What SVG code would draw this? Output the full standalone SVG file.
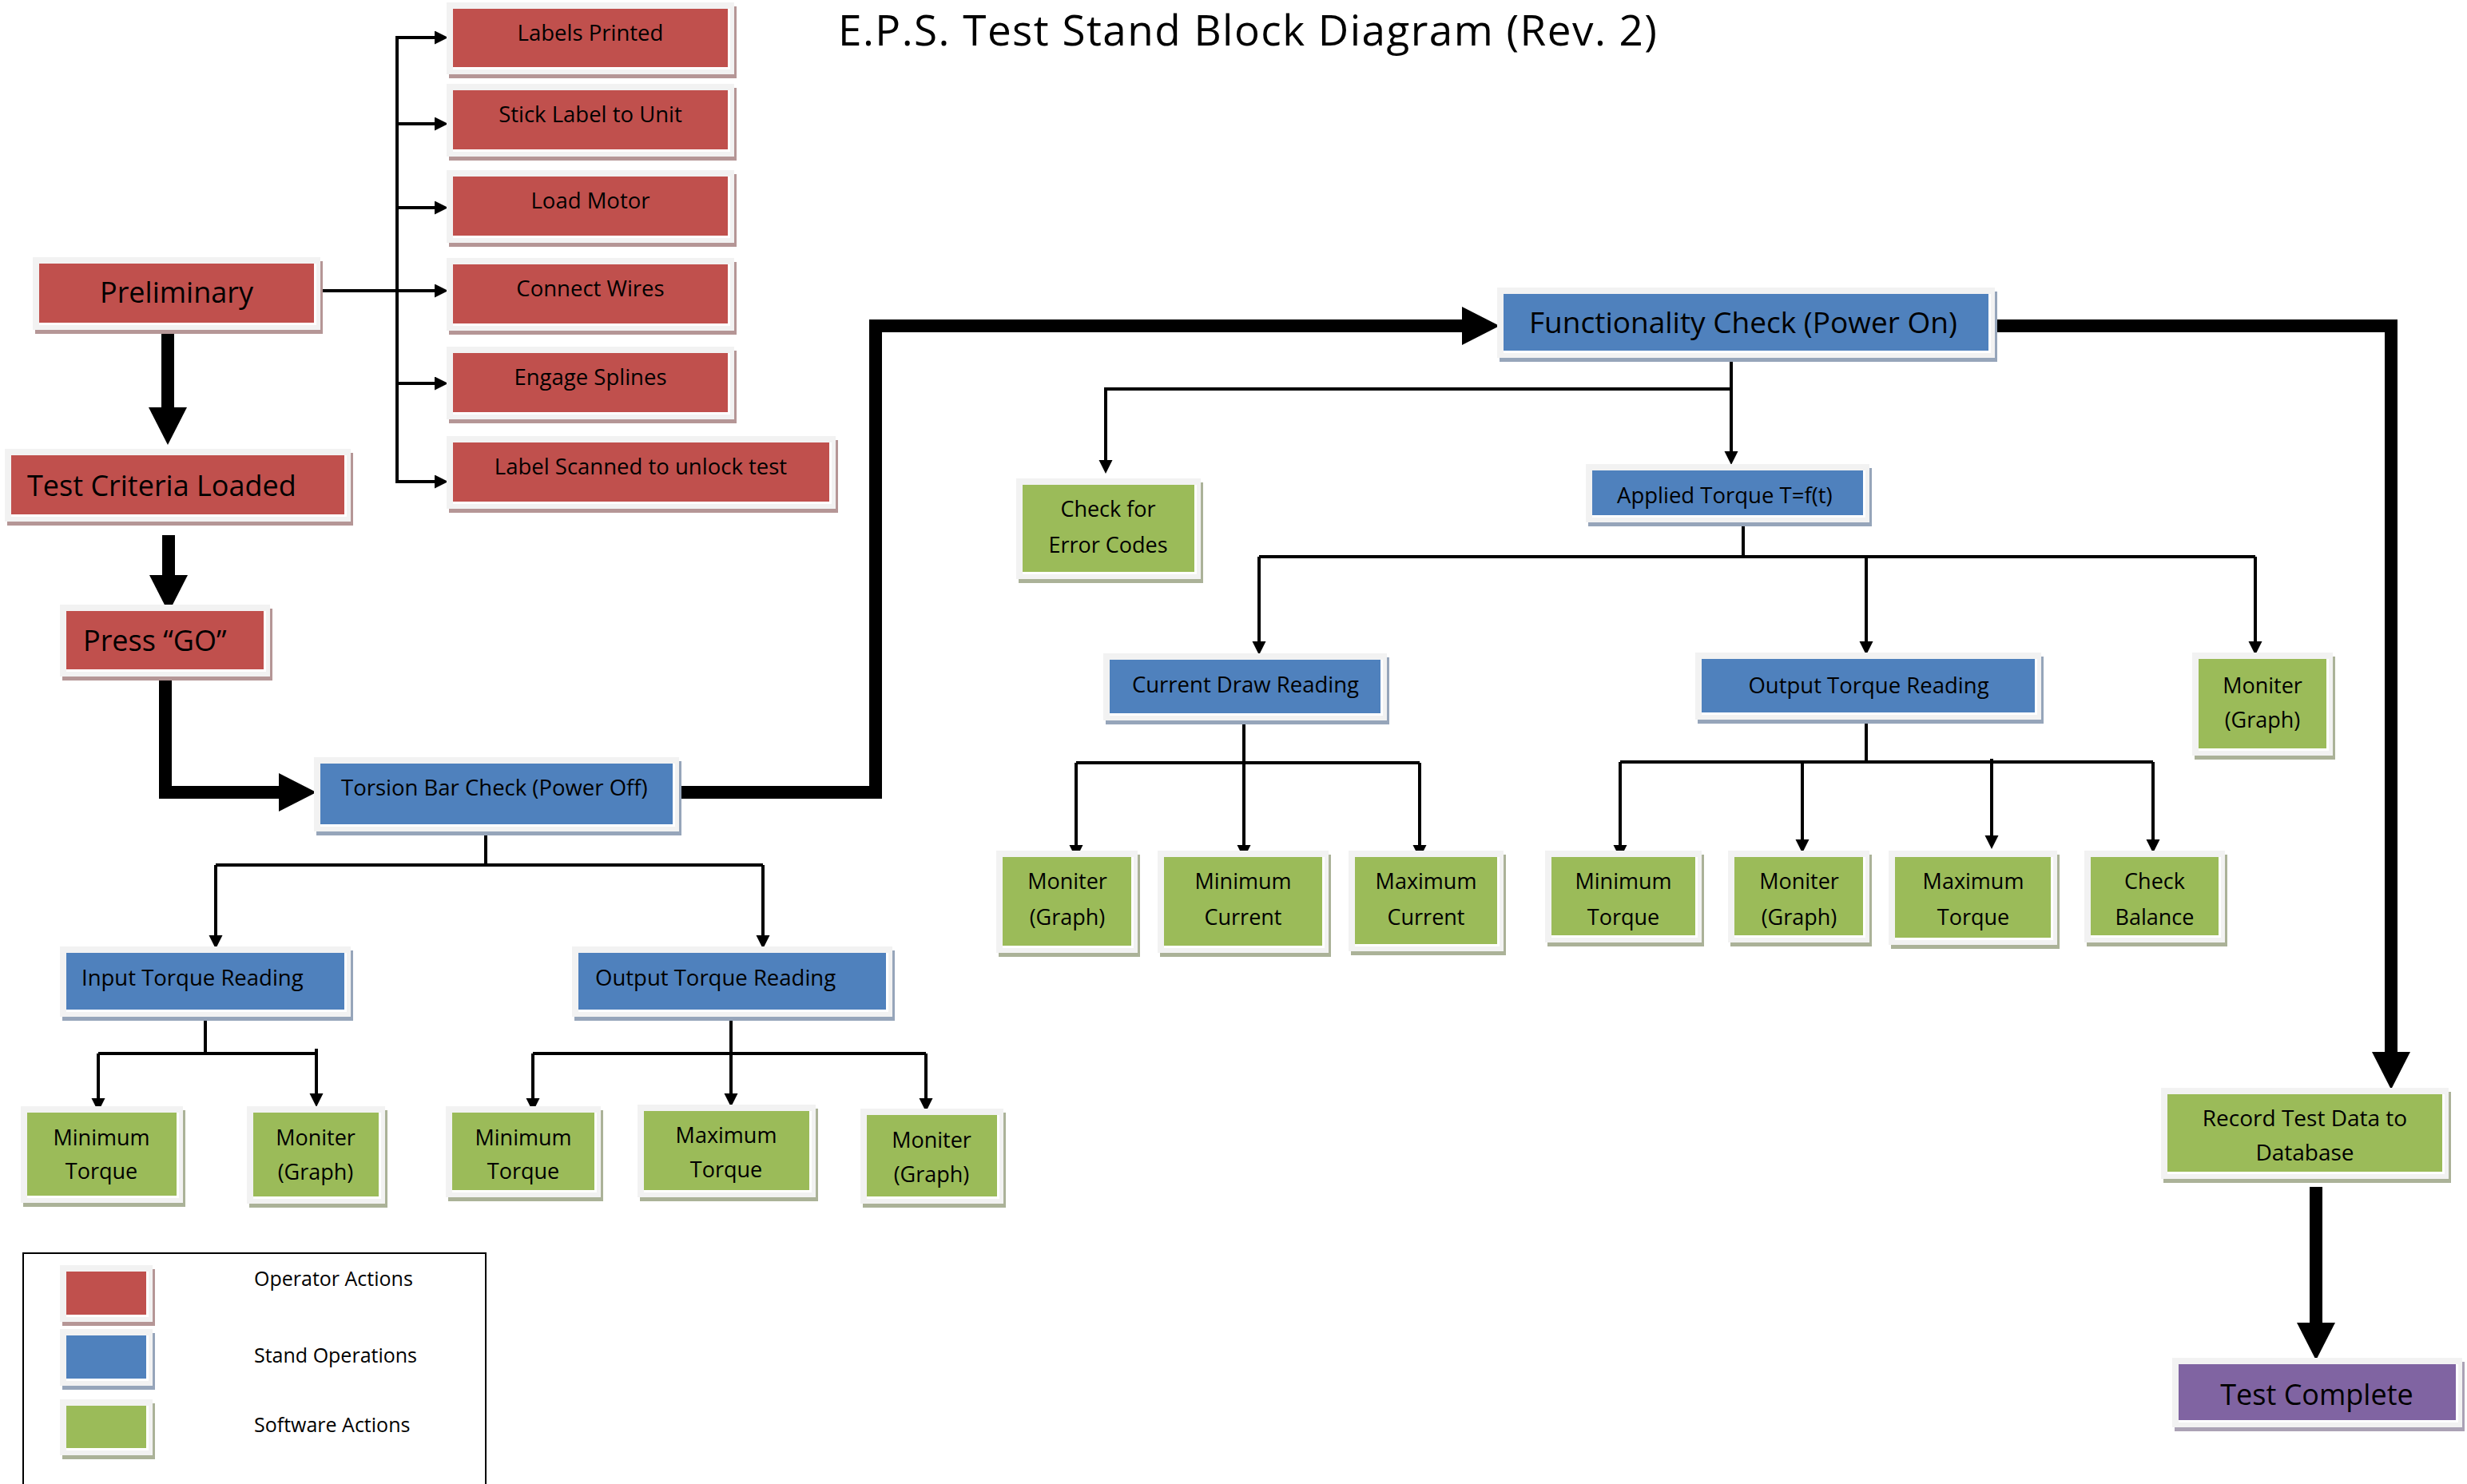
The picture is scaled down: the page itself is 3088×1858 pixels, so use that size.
<svg xmlns="http://www.w3.org/2000/svg" width="3088" height="1858" viewBox="0 0 3088 1858">
<style>
text{font-family:"Open Sans","Liberation Sans",sans-serif;fill:#000}
.t{font-size:27.5px}
.tg{font-size:27px;text-anchor:middle}
.tl{font-size:36px}
.m{text-anchor:middle}
.fr{fill:#f2f2f2}
.wh{fill:#ffffff}
.red .sh{fill:#b59696}.red .fl{fill:#c0504d}
.blue .sh{fill:#96a5ba}.blue .fl{fill:#4f81bd}
.green .sh{fill:#abb298}.green .fl{fill:#9bbb59}
.purple .sh{fill:#aba2b5}.purple .fl{fill:#8064a2}
.c{fill:none;stroke:#000;stroke-width:4}
.ca{fill:none;stroke:#000;stroke-width:4;marker-end:url(#ah)}
.tk{fill:none;stroke:#000;stroke-width:16;stroke-linejoin:miter;marker-end:url(#ahk)}
</style>
<defs>
<marker id="ah" markerUnits="userSpaceOnUse" markerWidth="18" markerHeight="18" refX="0" refY="8.5" orient="auto"><path d="M0,0 L17,8.5 L0,17 z" fill="#000"/></marker>
<marker id="ahk" markerUnits="userSpaceOnUse" markerWidth="48" markerHeight="48" refX="0" refY="24" orient="auto"><path d="M0,0 L47,24 L0,48 z" fill="#000"/></marker>
</defs>
<rect width="3088" height="1858" fill="#fff"/>
<text id="title" x="1049" y="57" font-size="53" textLength="1025">E.P.S. Test Stand Block Diagram (Rev. 2)</text>

<g id="connectors">
<path class="c" d="M497,45 V605"/>
<path class="ca" d="M401,364 H544"/>
<path class="ca" d="M497,47 H544"/>
<path class="ca" d="M497,155 H544"/>
<path class="ca" d="M497,260 H544"/>
<path class="ca" d="M497,480 H544"/>
<path class="ca" d="M497,603 H544"/>
<path class="ca" d="M2167,439 V565"/>
<path class="ca" d="M2167,487 H1384 V576"/>
<path class="c" d="M2182,645 V697"/>
<path class="c" d="M1576,697 H2823"/>
<path class="ca" d="M1576,697 V803"/>
<path class="ca" d="M2336,697 V803"/>
<path class="ca" d="M2823,697 V803"/>
<path class="ca" d="M1557,893 V1058"/>
<path class="c" d="M1347,955 H1777"/>
<path class="ca" d="M1347,955 V1058"/>
<path class="ca" d="M1777,955 V1058"/>
<path class="c" d="M2336,892 V954"/>
<path class="c" d="M2028,954 H2695"/>
<path class="ca" d="M2028,954 V1058"/>
<path class="ca" d="M2256,954 V1051"/>
<path class="ca" d="M2493,950 V1046"/>
<path class="ca" d="M2695,954 V1051"/>
<path class="c" d="M608,1032 V1083"/>
<path class="c" d="M270,1083 H955"/>
<path class="ca" d="M270,1083 V1171"/>
<path class="ca" d="M955,1083 V1171"/>
<path class="c" d="M257,1264 V1319"/>
<path class="c" d="M123,1319 H396"/>
<path class="ca" d="M123,1319 V1375"/>
<path class="ca" d="M396,1313 V1369"/>
<path class="ca" d="M915,1264 V1369"/>
<path class="c" d="M667,1319 H1159"/>
<path class="ca" d="M667,1319 V1375"/>
<path class="ca" d="M1159,1319 V1375"/>
<path class="tk" d="M210,408 V510"/>
<path class="tk" d="M211,670 V720"/>
<path class="tk" d="M207,846 V992 H349"/>
<path class="tk" d="M847,992 H1096 V408 H1830"/>
<path class="tk" d="M2494,408 H2993 V1317"/>
<path class="tk" d="M2899,1486 V1656"/>
</g>

<g id="n-labels-printed" class="red"><rect class="sh" x="562" y="8" width="360" height="90"/><rect class="fr" x="559" y="3" width="360" height="90"/><rect class="wh" x="567" y="11" width="347" height="76"/><rect class="fl" x="567" y="11" width="344" height="73"/><text class="t m" x="739" y="51">Labels Printed</text></g>
<g id="n-stick-label" class="red"><rect class="sh" x="562" y="110" width="360" height="91"/><rect class="fr" x="559" y="105" width="360" height="91"/><rect class="wh" x="567" y="113" width="347" height="77"/><rect class="fl" x="567" y="113" width="344" height="74"/><text class="t m" x="739" y="153">Stick Label to Unit</text></g>
<g id="n-load-motor" class="red"><rect class="sh" x="562" y="218" width="360" height="91"/><rect class="fr" x="559" y="213" width="360" height="91"/><rect class="wh" x="567" y="221" width="347" height="77"/><rect class="fl" x="567" y="221" width="344" height="74"/><text class="t m" x="739" y="261">Load Motor</text></g>
<g id="n-connect-wires" class="red"><rect class="sh" x="562" y="328" width="360" height="91"/><rect class="fr" x="559" y="323" width="360" height="91"/><rect class="wh" x="567" y="331" width="347" height="77"/><rect class="fl" x="567" y="331" width="344" height="74"/><text class="t m" x="739" y="371">Connect Wires</text></g>
<g id="n-engage-splines" class="red"><rect class="sh" x="562" y="439" width="360" height="91"/><rect class="fr" x="559" y="434" width="360" height="91"/><rect class="wh" x="567" y="442" width="347" height="77"/><rect class="fl" x="567" y="442" width="344" height="74"/><text class="t m" x="739" y="482">Engage Splines</text></g>
<g id="n-label-scanned" class="red"><rect class="sh" x="562" y="551" width="487" height="91"/><rect class="fr" x="559" y="546" width="487" height="91"/><rect class="wh" x="567" y="554" width="474" height="77"/><rect class="fl" x="567" y="554" width="471" height="74"/><text class="t m" x="802" y="594">Label Scanned to unlock test</text></g>
<g id="n-preliminary" class="red"><rect class="sh" x="44" y="327" width="360" height="91"/><rect class="fr" x="41" y="322" width="360" height="91"/><rect class="wh" x="49" y="330" width="347" height="77"/><rect class="fl" x="49" y="330" width="344" height="74"/><text class="tl m" x="221" y="379">Preliminary</text></g>
<g id="n-test-criteria" class="red"><rect class="sh" x="9" y="567" width="433" height="91"/><rect class="fr" x="6" y="562" width="433" height="91"/><rect class="wh" x="14" y="570" width="420" height="77"/><rect class="fl" x="14" y="570" width="417" height="74"/><text class="tl" x="34" y="621">Test Criteria Loaded</text></g>
<g id="n-press-go" class="red"><rect class="sh" x="78" y="762" width="263" height="90"/><rect class="fr" x="75" y="757" width="263" height="90"/><rect class="wh" x="83" y="765" width="250" height="76"/><rect class="fl" x="83" y="765" width="247" height="73"/><text class="tl" x="104" y="815">Press “GO”</text></g>

<g id="n-torsion" class="blue"><rect class="sh" x="396" y="953" width="457" height="93"/><rect class="fr" x="393" y="948" width="457" height="93"/><rect class="wh" x="401" y="956" width="444" height="79"/><rect class="fl" x="401" y="956" width="441" height="76"/><text class="t" x="427" y="996">Torsion Bar Check (Power Off)</text></g>
<g id="n-input-torque" class="blue"><rect class="sh" x="78" y="1190" width="364" height="88"/><rect class="fr" x="75" y="1185" width="364" height="88"/><rect class="wh" x="83" y="1193" width="351" height="74"/><rect class="fl" x="83" y="1193" width="348" height="71"/><text class="t" x="102" y="1234">Input Torque Reading</text></g>
<g id="n-output-torque-l" class="blue"><rect class="sh" x="719" y="1190" width="401" height="88"/><rect class="fr" x="716" y="1185" width="401" height="88"/><rect class="wh" x="724" y="1193" width="388" height="74"/><rect class="fl" x="724" y="1193" width="385" height="71"/><text class="t" x="745" y="1234">Output Torque Reading</text></g>
<g id="n-functionality" class="blue"><rect class="sh" x="1877" y="365" width="623" height="88"/><rect class="fr" x="1874" y="360" width="623" height="88"/><rect class="wh" x="1882" y="368" width="610" height="74"/><rect class="fl" x="1882" y="368" width="607" height="71"/><text x="1914" y="417" font-size="37">Functionality Check (Power On)</text></g>
<g id="n-applied" class="blue"><rect class="sh" x="1988" y="586" width="355" height="73"/><rect class="fr" x="1985" y="581" width="355" height="73"/><rect class="wh" x="1993" y="589" width="342" height="59"/><rect class="fl" x="1993" y="589" width="339" height="56"/><text class="t" x="2024" y="630">Applied Torque T=f(t)</text></g>
<g id="n-current-draw" class="blue"><rect class="sh" x="1384" y="823" width="355" height="84"/><rect class="fr" x="1381" y="818" width="355" height="84"/><rect class="wh" x="1389" y="826" width="342" height="70"/><rect class="fl" x="1389" y="826" width="339" height="67"/><text class="t m" x="1559" y="867">Current Draw Reading</text></g>
<g id="n-output-torque-r" class="blue"><rect class="sh" x="2125" y="822" width="433" height="84"/><rect class="fr" x="2122" y="817" width="433" height="84"/><rect class="wh" x="2130" y="825" width="420" height="70"/><rect class="fl" x="2130" y="825" width="417" height="67"/><text class="t m" x="2339" y="868">Output Torque Reading</text></g>

<g id="n-error-codes" class="green"><rect class="sh" x="1275" y="604" width="231" height="126"/><rect class="fr" x="1272" y="599" width="231" height="126"/><rect class="wh" x="1280" y="607" width="218" height="112"/><rect class="fl" x="1280" y="607" width="215" height="109"/><text class="tg" x="1387" y="647">Check for</text><text class="tg" x="1387" y="692">Error Codes</text></g>
<g id="n-moniter-r" class="green"><rect class="sh" x="2747" y="822" width="176" height="129"/><rect class="fr" x="2744" y="817" width="176" height="129"/><rect class="wh" x="2752" y="825" width="163" height="115"/><rect class="fl" x="2752" y="825" width="160" height="112"/><text class="tg" x="2832" y="868">Moniter</text><text class="tg" x="2832" y="911">(Graph)</text></g>
<g id="n-moniter-cd" class="green"><rect class="sh" x="1250" y="1070" width="177" height="128"/><rect class="fr" x="1247" y="1065" width="177" height="128"/><rect class="wh" x="1255" y="1073" width="164" height="114"/><rect class="fl" x="1255" y="1073" width="161" height="111"/><text class="tg" x="1336" y="1113">Moniter</text><text class="tg" x="1336" y="1158">(Graph)</text></g>
<g id="n-min-current" class="green"><rect class="sh" x="1452" y="1070" width="214" height="128"/><rect class="fr" x="1449" y="1065" width="214" height="128"/><rect class="wh" x="1457" y="1073" width="201" height="114"/><rect class="fl" x="1457" y="1073" width="198" height="111"/><text class="tg" x="1556" y="1113">Minimum</text><text class="tg" x="1556" y="1158">Current</text></g>
<g id="n-max-current" class="green"><rect class="sh" x="1691" y="1070" width="194" height="126"/><rect class="fr" x="1688" y="1065" width="194" height="126"/><rect class="wh" x="1696" y="1073" width="181" height="112"/><rect class="fl" x="1696" y="1073" width="178" height="109"/><text class="tg" x="1785" y="1113">Maximum</text><text class="tg" x="1785" y="1158">Current</text></g>
<g id="n-min-torque-r" class="green"><rect class="sh" x="1937" y="1070" width="196" height="115"/><rect class="fr" x="1934" y="1065" width="196" height="115"/><rect class="wh" x="1942" y="1073" width="183" height="101"/><rect class="fl" x="1942" y="1073" width="180" height="98"/><text class="tg" x="2032" y="1113">Minimum</text><text class="tg" x="2032" y="1158">Torque</text></g>
<g id="n-moniter-ot" class="green"><rect class="sh" x="2166" y="1070" width="177" height="115"/><rect class="fr" x="2163" y="1065" width="177" height="115"/><rect class="wh" x="2171" y="1073" width="164" height="101"/><rect class="fl" x="2171" y="1073" width="161" height="98"/><text class="tg" x="2252" y="1113">Moniter</text><text class="tg" x="2252" y="1158">(Graph)</text></g>
<g id="n-max-torque-r" class="green"><rect class="sh" x="2367" y="1070" width="211" height="118"/><rect class="fr" x="2364" y="1065" width="211" height="118"/><rect class="wh" x="2372" y="1073" width="198" height="104"/><rect class="fl" x="2372" y="1073" width="195" height="101"/><text class="tg" x="2470" y="1113">Maximum</text><text class="tg" x="2470" y="1158">Torque</text></g>
<g id="n-check-balance" class="green"><rect class="sh" x="2612" y="1070" width="176" height="115"/><rect class="fr" x="2609" y="1065" width="176" height="115"/><rect class="wh" x="2617" y="1073" width="163" height="101"/><rect class="fl" x="2617" y="1073" width="160" height="98"/><text class="tg" x="2697" y="1113">Check</text><text class="tg" x="2697" y="1158">Balance</text></g>
<g id="n-min-torque-it" class="green"><rect class="sh" x="29" y="1390" width="203" height="121"/><rect class="fr" x="26" y="1385" width="203" height="121"/><rect class="wh" x="34" y="1393" width="190" height="107"/><rect class="fl" x="34" y="1393" width="187" height="104"/><text class="tg" x="127" y="1434">Minimum</text><text class="tg" x="127" y="1476">Torque</text></g>
<g id="n-moniter-it" class="green"><rect class="sh" x="312" y="1390" width="173" height="122"/><rect class="fr" x="309" y="1385" width="173" height="122"/><rect class="wh" x="317" y="1393" width="160" height="108"/><rect class="fl" x="317" y="1393" width="157" height="105"/><text class="tg" x="395" y="1434">Moniter</text><text class="tg" x="395" y="1477">(Graph)</text></g>
<g id="n-min-torque-otl" class="green"><rect class="sh" x="561" y="1390" width="194" height="114"/><rect class="fr" x="558" y="1385" width="194" height="114"/><rect class="wh" x="566" y="1393" width="181" height="100"/><rect class="fl" x="566" y="1393" width="178" height="97"/><text class="tg" x="655" y="1434">Minimum</text><text class="tg" x="655" y="1476">Torque</text></g>
<g id="n-max-torque-otl" class="green"><rect class="sh" x="801" y="1388" width="223" height="116"/><rect class="fr" x="798" y="1383" width="223" height="116"/><rect class="wh" x="806" y="1391" width="210" height="102"/><rect class="fl" x="806" y="1391" width="207" height="99"/><text class="tg" x="909" y="1431">Maximum</text><text class="tg" x="909" y="1474">Torque</text></g>
<g id="n-moniter-otl" class="green"><rect class="sh" x="1080" y="1393" width="179" height="119"/><rect class="fr" x="1077" y="1388" width="179" height="119"/><rect class="wh" x="1085" y="1396" width="166" height="105"/><rect class="fl" x="1085" y="1396" width="163" height="102"/><text class="tg" x="1166" y="1437">Moniter</text><text class="tg" x="1166" y="1480">(Graph)</text></g>
<g id="n-record" class="green"><rect class="sh" x="2708" y="1367" width="360" height="114"/><rect class="fr" x="2705" y="1362" width="360" height="114"/><rect class="wh" x="2713" y="1370" width="347" height="100"/><rect class="fl" x="2713" y="1370" width="344" height="97"/><text class="m" x="2885" y="1410" font-size="28">Record Test Data to</text><text class="m" x="2885" y="1453" font-size="28">Database</text></g>
<g id="n-test-complete" class="purple"><rect class="sh" x="2722" y="1705" width="363" height="87"/><rect class="fr" x="2719" y="1700" width="363" height="87"/><rect class="wh" x="2727" y="1708" width="350" height="73"/><rect class="fl" x="2727" y="1708" width="347" height="70"/><text class="tl m" x="2900" y="1759">Test Complete</text></g>

<g id="legend">
<rect x="29" y="1569" width="579" height="300" fill="none" stroke="#000" stroke-width="2"/>
<g class="red"><rect class="sh" x="78" y="1589" width="116" height="71"/><rect class="fr" x="75" y="1584" width="116" height="71"/><rect class="wh" x="83" y="1592" width="103" height="57"/><rect class="fl" x="83" y="1592" width="100" height="54"/></g>
<g class="blue"><rect class="sh" x="78" y="1669" width="116" height="71"/><rect class="fr" x="75" y="1664" width="116" height="71"/><rect class="wh" x="83" y="1672" width="103" height="57"/><rect class="fl" x="83" y="1672" width="100" height="54"/></g>
<g class="green"><rect class="sh" x="78" y="1757" width="116" height="70"/><rect class="fr" x="75" y="1752" width="116" height="70"/><rect class="wh" x="83" y="1760" width="103" height="56"/><rect class="fl" x="83" y="1760" width="100" height="53"/></g>
<text x="318" y="1610" font-size="25">Operator Actions</text>
<text x="318" y="1706" font-size="25">Stand Operations</text>
<text x="318" y="1793" font-size="25">Software Actions</text>
</g>
</svg>
